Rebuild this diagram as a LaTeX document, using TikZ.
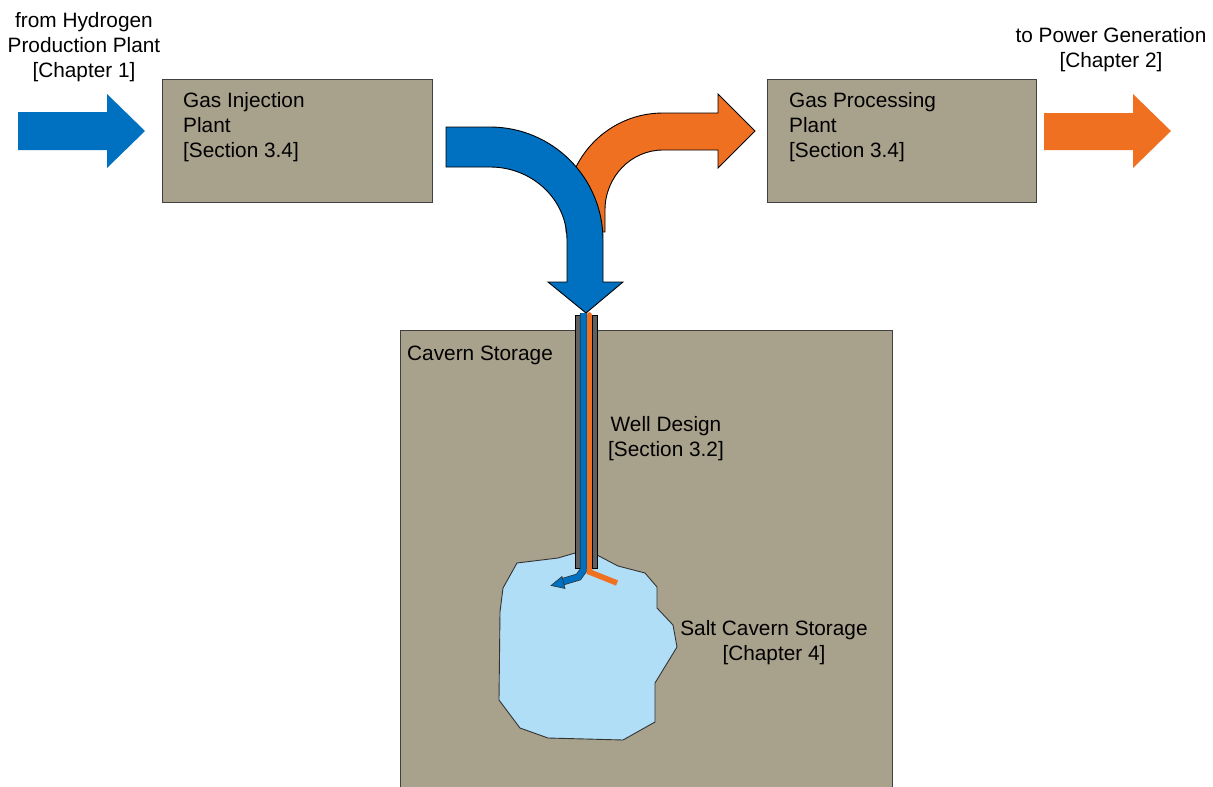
\documentclass[tikz,border=0pt]{standalone}
\usepackage{fontspec}
\setmainfont{Liberation Sans}
\usetikzlibrary{arrows.meta}
\definecolor{earth}{RGB}{168,161,140}
\definecolor{hblue}{RGB}{0,112,192}
\definecolor{horange}{RGB}{240,112,34}
\definecolor{brine}{RGB}{176,222,246}
\definecolor{casing}{RGB}{96,96,96}
\tikzset{
  lbl/.style={inner sep=0pt, font=\fontsize{20.8}{25}\selectfont, text=black},
  plantbox/.style={draw=black!75, line width=0.9pt, fill=earth},
  flowedge/.style={draw=black, line width=0.9pt},
}
\begin{document}
\begin{tikzpicture}[x=1pt, y=-1pt]
\useasboundingbox (0,0) rectangle (1213,787);
\clip (0,0) rectangle (1213,787);

% plants and storage ground
\node[plantbox, minimum width=270pt, minimum height=123pt, anchor=north west, inner sep=0pt] (inj) at (162,79) {};
\node[plantbox, minimum width=269pt, minimum height=123pt, anchor=north west, inner sep=0pt] (proc) at (767,79) {};
\node[plantbox, minimum width=492pt, minimum height=470pt, anchor=north west, inner sep=0pt] (cav) at (400,330) {};

% salt cavern
\filldraw[fill=brine, draw=black!80, line width=0.9pt]
  (575,553) -- (558,558) -- (517,563) -- (503,588) -- (500,612) -- (499,700)
  -- (520,728) -- (548,738) -- (623,740) -- (655,722) -- (655,683)
  -- (677,647) -- (673,625) -- (657,608) -- (657,587) -- (645,573)
  -- (618,566) -- (597,555) -- cycle;

% straight inflow / outflow arrows
\fill[hblue] (18,112) -- (107,112) -- (107,94) -- (145,131) -- (107,168)
  -- (107,150) -- (18,150) -- cycle;
\fill[horange] (1044,113) -- (1133,113) -- (1133,94) -- (1171,131)
  -- (1133,168) -- (1133,150) -- (1044,150) -- cycle;

% withdrawal arrow (orange), behind the injection arrow
\path[flowedge, fill=horange]
  (566,232) -- (566,210)
  .. controls (566,156.4) and (609.4,113) .. (663,113)
  -- (718,113) -- (718,94) -- (755,131) -- (718,168) -- (718,150)
  -- (663,150)
  .. controls (631,150) and (605,176.9) .. (605,210)
  -- (605,232) -- cycle;

% injection arrow (blue)
\path[flowedge, fill=hblue]
  (446,127) -- (490,127)
  .. controls (552.4,127) and (603,177.6) .. (603,240)
  -- (603,282) -- (623,282) -- (586,313) -- (548,282) -- (567,282)
  -- (567,240)
  .. controls (567,199.7) and (532.5,167) .. (490,167)
  -- (446,167) -- cycle;

% well casing
\filldraw[fill=casing, draw=black, line width=0.7pt] (575,315) rectangle (580.5,568);
\filldraw[fill=casing, draw=black, line width=0.7pt] (592,315) rectangle (597.5,568);

% injection string
\draw[black!80, line width=7.4pt] (583.5,313) -- (583.5,570) -- (578.5,577) -- (560,582.5);
\draw[hblue, line width=6pt] (583.5,313) -- (583.5,570) -- (578.5,577) -- (560,582.5);
\filldraw[fill=hblue, draw=black!80, line width=0.6pt]
  (562,576.5) -- (551,585.5) -- (565,588.5) -- cycle;

% withdrawal string
\draw[horange, line width=5.6pt, line cap=round] (589.5,315) -- (589.5,572);
\draw[horange, line width=5.6pt] (589.5,569) -- (589.5,572) -- (617,583);

% labels
\node[lbl, align=center, anchor=north] (src) at (84,10)
  {\strut from Hydrogen\\Production Plant\\{[Chapter 1]}};
\node[lbl, align=left, anchor=north west] (injtxt) at (183,90)
  {\strut Gas Injection\\Plant\\{[Section 3.4]}};
\node[lbl, align=left, anchor=north west] (proctxt) at (789,90)
  {\strut Gas Processing\\Plant\\{[Section 3.4]}};
\node[lbl, align=center, anchor=north] (dst) at (1111,25)
  {\strut to Power Generation\\{[Chapter 2]}};
\node[lbl, anchor=north west] (cavtxt) at (407,343) {\strut Cavern Storage};
\node[lbl, align=center, anchor=north] (welltxt) at (666,414)
  {\strut Well Design\\{[Section 3.2]}};
\node[lbl, align=center, anchor=north] (salttxt) at (774,618)
  {\strut Salt Cavern Storage\\{[Chapter 4]}};
\end{tikzpicture}
\end{document}
